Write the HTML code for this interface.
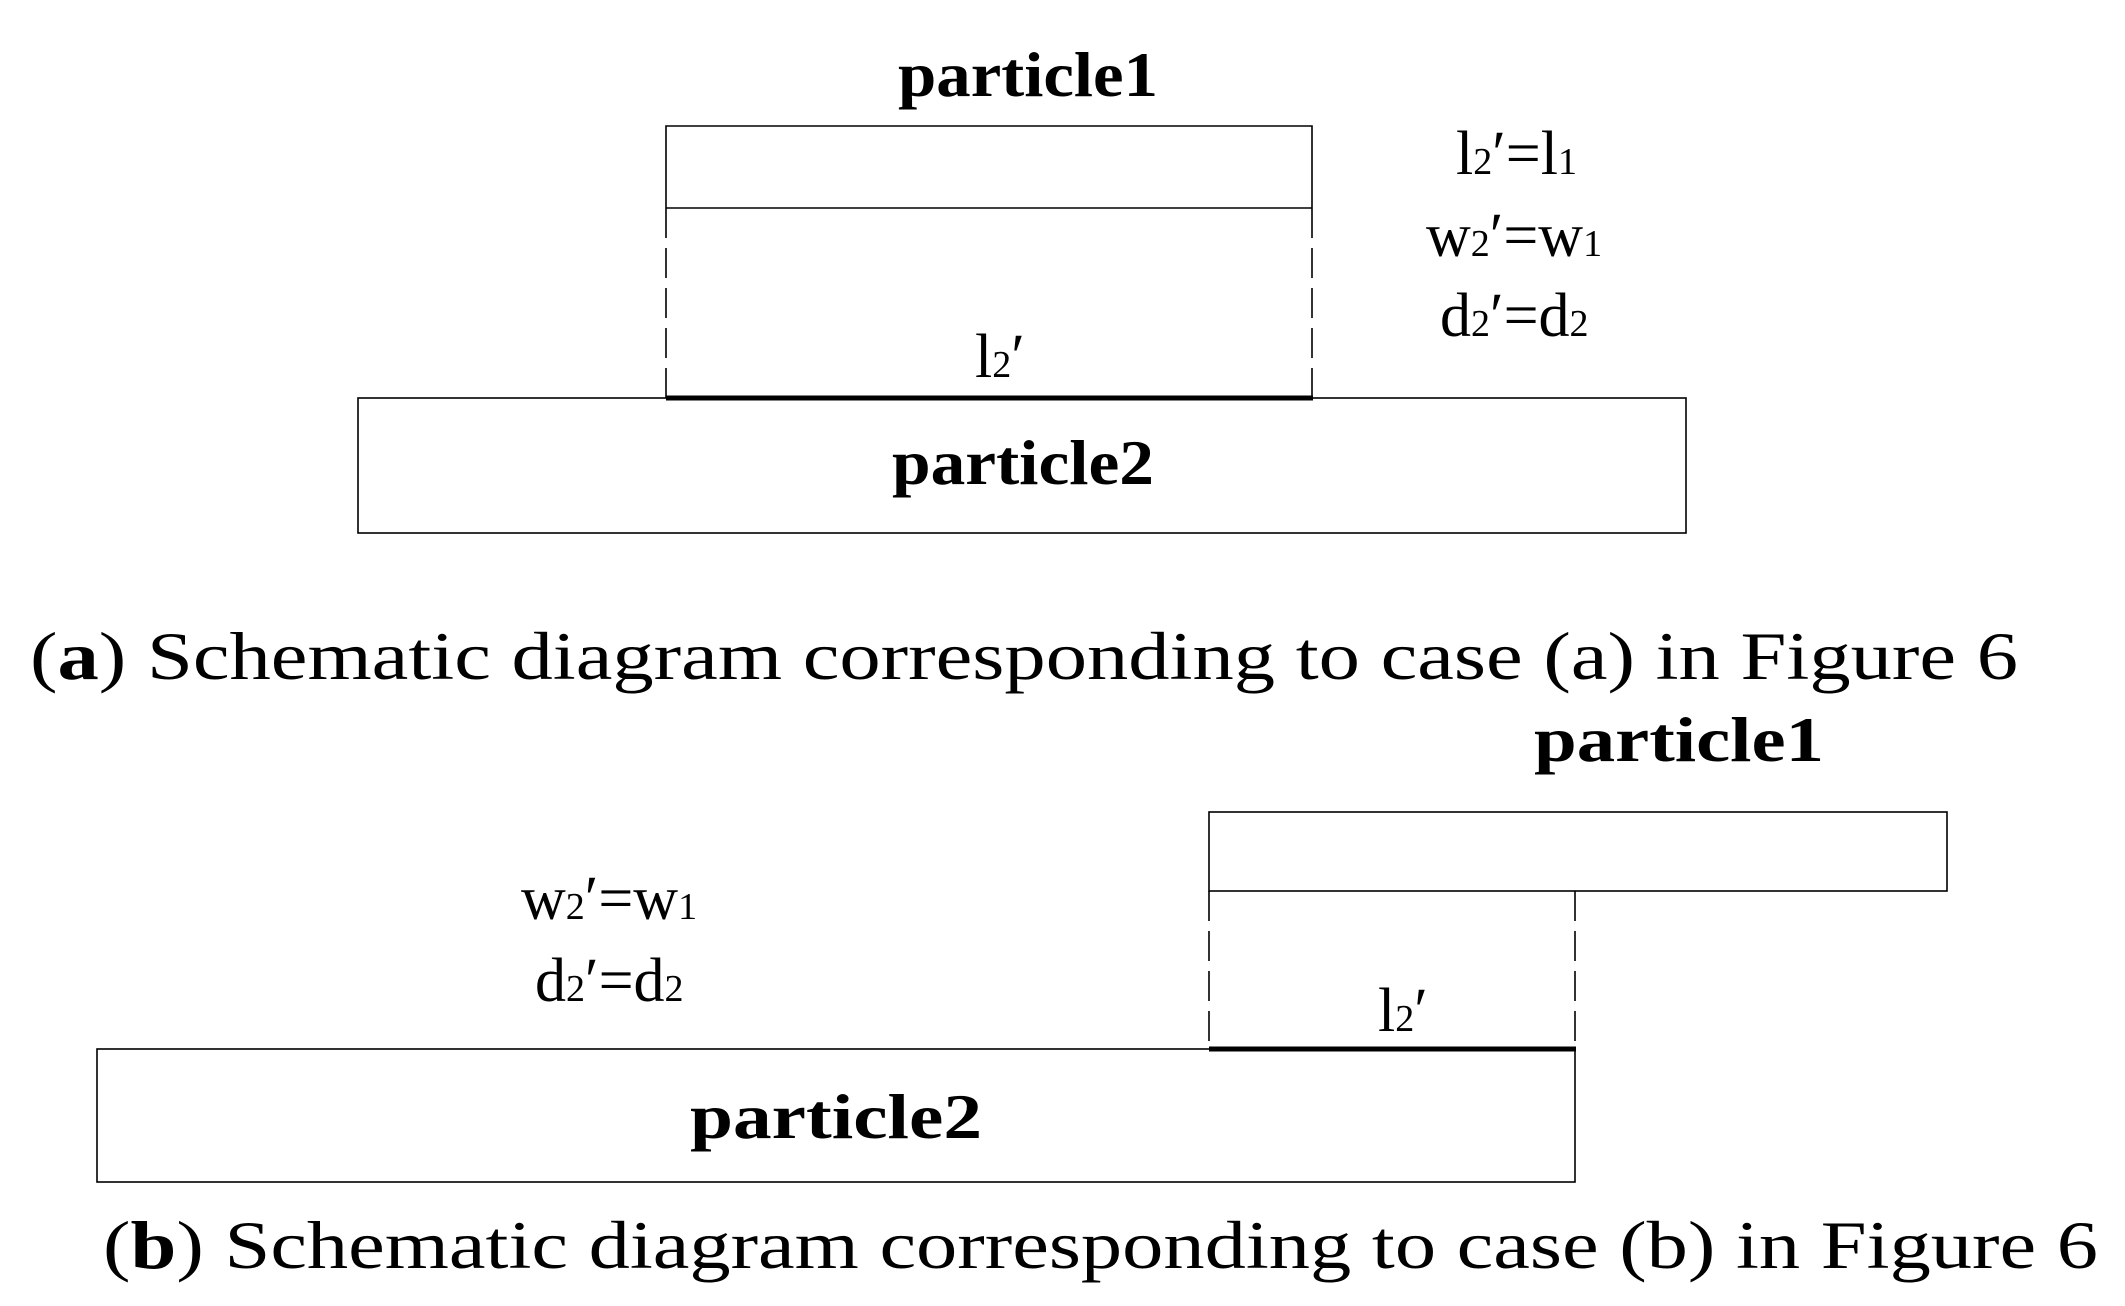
<!DOCTYPE html>
<html><head><meta charset="utf-8"><style>html,body{margin:0;padding:0;background:#fff}svg{display:block}</style></head>
<body>
<svg width="2125" height="1306" viewBox="0 0 2125 1306" xmlns="http://www.w3.org/2000/svg" font-family="'Liberation Serif', serif">
<g fill="none" stroke="#000" stroke-width="1.6">
<path d="M666 208 V126 H1312 V208"/>
<line x1="666" y1="208" x2="1312" y2="208"/>
<line x1="666" y1="208" x2="666" y2="398" stroke-dasharray="30 10"/>
<line x1="1312" y1="208" x2="1312" y2="398" stroke-dasharray="30 10"/>
<rect x="358" y="398" width="1328" height="135"/>
<line x1="666" y1="398" x2="1313" y2="398" stroke-width="5"/>
<rect x="1209" y="812" width="738" height="79"/>
<line x1="1209" y1="891" x2="1209" y2="1049" stroke-dasharray="30 10"/>
<line x1="1575" y1="891" x2="1575" y2="1049" stroke-dasharray="30 10"/>
<rect x="97" y="1049" width="1478" height="133"/>
<line x1="1209" y1="1049" x2="1576" y2="1049" stroke-width="5"/>
</g>
<g fill="#000">
<text x="1028" y="96" font-size="64" font-weight="bold" text-anchor="middle" textLength="260" lengthAdjust="spacingAndGlyphs">particle1</text>
<text x="1023" y="484" font-size="64" font-weight="bold" text-anchor="middle" textLength="262" lengthAdjust="spacingAndGlyphs">particle2</text>
<text x="975" y="377" font-size="62">l<tspan font-size="38">2</tspan>′</text>
<text x="1456" y="174" font-size="62">l<tspan font-size="38">2</tspan>′=l<tspan font-size="38">1</tspan></text>
<text x="1426" y="256" font-size="62">w<tspan font-size="38">2</tspan>′=w<tspan font-size="38">1</tspan></text>
<text x="1440" y="336" font-size="62">d<tspan font-size="38">2</tspan>′=d<tspan font-size="38">2</tspan></text>
<text x="30" y="679" font-size="68" textLength="1988" lengthAdjust="spacingAndGlyphs">(<tspan font-weight="bold">a</tspan>) Schematic diagram corresponding to case (a) in Figure 6</text>
<text x="1679" y="761" font-size="64" font-weight="bold" text-anchor="middle" textLength="290" lengthAdjust="spacingAndGlyphs">particle1</text>
<text x="836" y="1138" font-size="64" font-weight="bold" text-anchor="middle" textLength="292" lengthAdjust="spacingAndGlyphs">particle2</text>
<text x="1378" y="1031" font-size="62">l<tspan font-size="38">2</tspan>′</text>
<text x="521" y="919" font-size="62">w<tspan font-size="38">2</tspan>′=w<tspan font-size="38">1</tspan></text>
<text x="535" y="1001" font-size="62">d<tspan font-size="38">2</tspan>′=d<tspan font-size="38">2</tspan></text>
<text x="103" y="1268" font-size="68" textLength="1995" lengthAdjust="spacingAndGlyphs">(<tspan font-weight="bold">b</tspan>) Schematic diagram corresponding to case (b) in Figure 6</text>
</g>
</svg>
</body></html>
